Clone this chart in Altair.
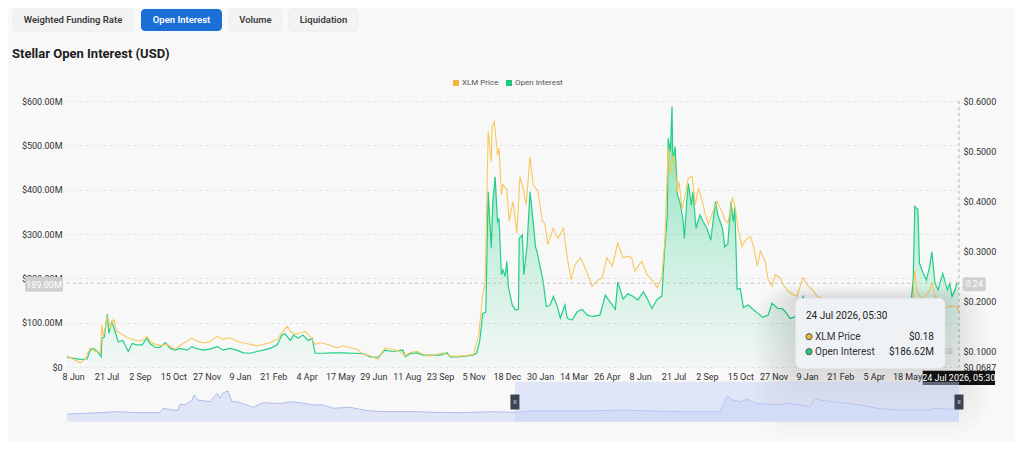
import altair as alt
import pandas as pd

# ---------------- data ----------------
BUTTONS = ["Weighted Funding Rate", "Open Interest", "Volume", "Liquidation"]
TITLE = "Stellar Open Interest (USD)"
SERIES = ["XLM Price", "Open Interest"]

oi_dates = ["2023-05-31","2023-06-17","2023-06-26","2023-06-30","2023-07-04","2023-07-09","2023-07-14","2023-07-15","2023-07-18","2023-07-22","2023-07-24","2023-07-28","2023-08-01","2023-08-05","2023-08-11","2023-08-18","2023-08-23","2023-08-29","2023-09-05","2023-09-11","2023-09-15","2023-09-22","2023-09-28","2023-10-05","2023-10-11","2023-10-17","2023-10-24","2023-11-02","2023-11-08","2023-11-15","2023-11-23","2023-12-02","2023-12-11","2023-12-18","2023-12-27","2024-01-05","2024-01-13","2024-01-22","2024-01-31","2024-02-08","2024-02-17","2024-02-26","2024-03-03","2024-03-07","2024-03-14","2024-03-18","2024-03-24","2024-03-30","2024-04-06","2024-04-11","2024-04-15","2024-04-25","2024-05-08","2024-05-21","2024-06-03","2024-06-16","2024-06-25","2024-07-05","2024-07-14","2024-07-24","2024-07-31","2024-08-06","2024-08-09","2024-08-15","2024-08-24","2024-09-01","2024-09-10","2024-09-23","2024-10-02","2024-10-06","2024-10-15","2024-10-28","2024-11-05","2024-11-09","2024-11-13","2024-11-17","2024-11-21","2024-11-24","2024-11-28","2024-11-30","2024-12-03","2024-12-06","2024-12-08","2024-12-11","2024-12-13","2024-12-16","2024-12-18","2024-12-20","2024-12-25","2024-12-29","2025-01-02","2025-01-03","2025-01-07","2025-01-09","2025-01-13","2025-01-17","2025-01-21","2025-01-24","2025-01-26","2025-01-30","2025-02-03","2025-02-07","2025-02-12","2025-02-16","2025-02-21","2025-02-25","2025-03-03","2025-03-06","2025-03-12","2025-03-19","2025-03-25","2025-04-01","2025-04-08","2025-04-17","2025-04-24","2025-04-30","2025-05-07","2025-05-10","2025-05-17","2025-05-23","2025-05-29","2025-06-05","2025-06-12","2025-06-18","2025-06-23","2025-06-30","2025-07-06","2025-07-09","2025-07-13","2025-07-14","2025-07-17","2025-07-19","2025-07-20","2025-07-23","2025-07-26","2025-07-29","2025-08-02","2025-08-04","2025-08-07","2025-08-09","2025-08-13","2025-08-15","2025-08-19","2025-08-24","2025-08-28","2025-09-02","2025-09-07","2025-09-13","2025-09-16","2025-09-22","2025-09-25","2025-09-29","2025-10-03","2025-10-06","2025-10-08","2025-10-11","2025-10-15","2025-10-19","2025-10-25","2025-11-01","2025-11-07","2025-11-13","2025-11-20","2025-11-25","2025-12-02","2025-12-08","2025-12-12","2025-12-18","2025-12-25","2026-01-04","2026-01-13","2026-02-01","2026-02-21","2026-03-12","2026-03-31","2026-04-20","2026-05-09","2026-05-22","2026-05-26","2026-05-28","2026-06-01","2026-06-03","2026-06-08","2026-06-12","2026-06-16","2026-06-19","2026-06-23","2026-06-27","2026-07-03","2026-07-09","2026-07-12","2026-07-15","2026-07-19","2026-07-21","2026-07-24"]
oi_values = [22,17,18,38,42,35,23,65,67,119,76,102,80,57,60,35,53,50,50,65,53,44,44,55,42,38,42,38,46,41,38,41,46,38,42,38,32,31,35,38,42,50,72,75,60,72,65,72,60,65,31,31,32,32,31,30,23,22,38,35,37,38,23,30,32,27,27,27,32,23,23,25,27,31,57,121,124,395,268,373,429,328,335,208,219,204,238,181,140,129,130,290,298,208,271,395,328,271,260,226,192,136,140,159,138,110,140,110,106,125,130,117,114,117,162,147,130,192,153,165,160,151,170,151,132,153,160,253,343,516,486,587,463,497,388,373,335,290,373,414,365,395,313,343,328,313,286,373,343,313,271,278,373,328,360,175,177,134,140,129,121,112,117,144,132,132,125,110,113,159,120,115,110,118,105,112,108,120,200,362,355,234,211,196,226,260,189,174,211,174,189,159,174,189,186.62]

price_dates = ["2023-05-31","2023-06-08","2023-06-17","2023-06-23","2023-06-30","2023-07-06","2023-07-13","2023-07-15","2023-07-17","2023-07-22","2023-07-26","2023-07-30","2023-08-03","2023-08-10","2023-08-17","2023-08-23","2023-08-29","2023-09-05","2023-09-11","2023-09-17","2023-09-28","2023-10-07","2023-10-17","2023-10-26","2023-11-02","2023-11-08","2023-11-15","2023-11-23","2023-12-02","2023-12-11","2023-12-18","2023-12-27","2024-01-05","2024-01-13","2024-01-22","2024-01-31","2024-02-08","2024-02-17","2024-02-26","2024-03-03","2024-03-10","2024-03-14","2024-03-20","2024-03-27","2024-04-02","2024-04-08","2024-04-15","2024-04-21","2024-04-30","2024-05-13","2024-05-21","2024-05-30","2024-06-08","2024-06-16","2024-06-25","2024-07-05","2024-07-14","2024-07-24","2024-08-02","2024-08-09","2024-08-15","2024-08-24","2024-09-01","2024-09-10","2024-09-19","2024-09-27","2024-10-06","2024-10-15","2024-10-28","2024-11-05","2024-11-12","2024-11-17","2024-11-20","2024-11-24","2024-11-28","2024-11-29","2024-12-02","2024-12-06","2024-12-08","2024-12-11","2024-12-13","2024-12-18","2024-12-21","2024-12-26","2024-12-31","2025-01-04","2025-01-08","2025-01-12","2025-01-17","2025-01-21","2025-01-27","2025-02-02","2025-02-05","2025-02-09","2025-02-16","2025-02-22","2025-03-01","2025-03-06","2025-03-11","2025-03-16","2025-03-23","2025-03-29","2025-04-07","2025-04-13","2025-04-20","2025-04-26","2025-05-03","2025-05-10","2025-05-17","2025-05-23","2025-05-28","2025-06-01","2025-06-10","2025-06-17","2025-06-23","2025-06-30","2025-07-06","2025-07-10","2025-07-14","2025-07-17","2025-07-20","2025-07-23","2025-07-26","2025-07-28","2025-08-01","2025-08-05","2025-08-09","2025-08-14","2025-08-18","2025-08-22","2025-08-27","2025-08-31","2025-09-04","2025-09-10","2025-09-15","2025-09-22","2025-09-25","2025-09-29","2025-10-05","2025-10-08","2025-10-12","2025-10-17","2025-10-21","2025-10-28","2025-11-01","2025-11-06","2025-11-10","2025-11-16","2025-11-20","2025-11-25","2025-11-29","2025-12-05","2025-12-09","2025-12-16","2025-12-22","2025-12-27","2026-01-04","2026-01-09","2026-01-16","2026-01-22","2026-01-29","2026-02-21","2026-03-12","2026-03-31","2026-04-20","2026-05-09","2026-05-22","2026-05-26","2026-05-28","2026-05-31","2026-06-06","2026-06-16","2026-06-19","2026-06-23","2026-06-30","2026-07-06","2026-07-12","2026-07-21","2026-07-24"]
price_values = [0.091,0.084,0.077,0.084,0.107,0.100,0.097,0.154,0.130,0.170,0.147,0.164,0.140,0.134,0.127,0.124,0.121,0.121,0.130,0.117,0.111,0.114,0.104,0.114,0.120,0.127,0.120,0.117,0.120,0.130,0.124,0.127,0.120,0.117,0.114,0.111,0.114,0.117,0.124,0.137,0.150,0.140,0.134,0.137,0.140,0.130,0.114,0.117,0.114,0.107,0.111,0.107,0.104,0.094,0.091,0.084,0.107,0.104,0.100,0.091,0.097,0.100,0.094,0.091,0.094,0.097,0.091,0.090,0.092,0.094,0.134,0.214,0.233,0.539,0.479,0.549,0.559,0.492,0.506,0.413,0.433,0.423,0.360,0.399,0.336,0.449,0.426,0.393,0.489,0.433,0.420,0.360,0.355,0.313,0.346,0.326,0.346,0.287,0.243,0.273,0.287,0.267,0.230,0.240,0.247,0.287,0.270,0.316,0.287,0.290,0.287,0.260,0.280,0.253,0.243,0.227,0.250,0.327,0.506,0.453,0.492,0.460,0.419,0.439,0.383,0.413,0.446,0.449,0.393,0.426,0.400,0.373,0.353,0.380,0.400,0.376,0.363,0.356,0.406,0.393,0.346,0.310,0.320,0.330,0.310,0.270,0.300,0.280,0.243,0.230,0.253,0.247,0.233,0.220,0.213,0.210,0.247,0.233,0.223,0.210,0.205,0.195,0.200,0.185,0.192,0.185,0.190,0.210,0.263,0.220,0.204,0.220,0.237,0.210,0.200,0.187,0.190,0.190,0.180]

# navigator (full history, relative level 0-100)
nav_dates = ["2020-03-27","2020-06-20","2020-08-04","2020-10-02","2020-11-23","2020-12-01","2020-12-27","2021-01-08","2021-01-14","2021-01-27","2021-02-14","2021-02-19","2021-03-01","2021-04-01","2021-04-20","2021-04-27","2021-05-05","2021-05-18","2021-05-28","2021-06-10","2021-07-06","2021-07-22","2021-08-17","2021-09-12","2021-10-07","2021-10-26","2021-11-20","2021-12-24","2022-01-19","2022-02-14","2022-03-30","2022-05-13","2022-06-23","2022-09-20","2022-10-31","2023-01-09","2023-04-04","2023-05-26","2023-06-06","2023-07-17","2023-10-13","2024-01-06","2024-03-06","2024-05-15","2024-08-08","2024-11-12","2024-11-20","2024-11-30","2024-12-16","2025-01-03","2025-01-21","2025-02-16","2025-03-14","2025-04-09","2025-05-05","2025-06-07","2025-07-03","2025-07-16","2025-07-29","2025-09-01","2025-10-07","2025-11-10","2025-12-24","2026-02-21","2026-05-02","2026-05-28","2026-06-13","2026-07-09","2026-07-24"]
nav_values = [19,22.5,25,22.5,22.5,33.5,29,29,44,42,54,67,54,50,71,59,72,77,50,50,42,36,47.5,46,46,50,47.5,42,42,33.5,36,27.5,25,25,23.5,22.5,25,23.5,23.5,27,27,27.5,29,27,25,25,42,64,54,50,56,46,43.5,42,46,42,37.5,58.5,54,50,46,42,33.5,29,29,33.5,32,31,31]

x_tick_dates = ["2023-06-08","2023-07-21","2023-09-02","2023-10-15","2023-11-27","2024-01-09","2024-02-21","2024-04-04","2024-05-17","2024-06-29","2024-08-11","2024-09-23","2024-11-05","2024-12-18","2025-01-30","2025-03-14","2025-04-26","2025-06-08","2025-07-21","2025-09-02","2025-10-15","2025-11-27","2026-01-09","2026-02-21","2026-04-05","2026-05-18"]
left_ticks = [0, 100, 200, 300, 400, 500, 600]
right_ticks = [0.0687, 0.1, 0.2, 0.3, 0.4, 0.5, 0.6]

view_start, view_end = "2023-05-31", "2026-07-24"
nav_start = "2020-03-27"
hover_label = "24 Jul 2026, 05:30"
hover_price = 0.18
hover_oi = 186.62
cross_oi = 189.0
cross_price = 0.24

# ---------------- styling ----------------
W, H = 892, 266
YELLOW, GREEN = "#f7c95c", "#22cf86"
FONT = "Roboto"


def dt(s):
    y, m, d = (int(v) for v in s.split("-"))
    return alt.DateTime(year=y, month=m, date=d, utc=True)


one = pd.DataFrame({"k": [0]})

x_main = alt.Scale(domain=[dt(view_start), dt(view_end)], nice=False)
x_nav = alt.Scale(domain=[dt(nav_start), dt(view_end)], nice=False)
y_left = alt.Scale(domain=[0, 600], nice=False)
y_right = alt.Scale(domain=[0.0687, 0.6], nice=False, zero=False)
y_nav = alt.Scale(domain=[0, 100], range=[320.7, 280.7], nice=False)

x_axis = alt.Axis(values=[dt(s) for s in x_tick_dates],
                  labelExpr="utcFormat(datum.value, '%-d %b')",
                  title=None, domain=False, ticks=False, grid=False,
                  labelPadding=5, labelFontSize=9, labelColor="#333",
                  labelOverlap=False, labelFont=FONT)
left_axis = alt.Axis(values=left_ticks,
                     labelExpr="datum.value == 0 ? '$0' : '$' + format(datum.value, '.2f') + 'M'",
                     title=None, domain=False, ticks=False, grid=True,
                     gridDash=[3, 3], gridColor="#e4e4e4", labelPadding=5,
                     labelFontSize=9, labelColor="#333", labelFont=FONT)
right_axis = alt.Axis(values=right_ticks, orient="right",
                      labelExpr="'$' + format(datum.value, '.4f')",
                      title=None, domain=False, ticks=False, grid=False,
                      labelPadding=4, labelFontSize=9, labelColor="#333",
                      labelOverlap=False, labelFont=FONT)

oi_df = pd.DataFrame({"date": oi_dates, "oi": oi_values})
price_df = pd.DataFrame({"date": price_dates, "price": price_values})
nav_df = pd.DataFrame({"date": nav_dates, "level": nav_values})


def txt(s, x, y, **kw):
    return alt.Chart(one).mark_text(text=s, font=FONT, **kw).encode(
        x=alt.value(x), y=alt.value(y))


def box(x, y, x2, y2, **kw):
    return alt.Chart(one).mark_rect(**kw).encode(
        x=alt.value(x), x2=alt.value(x2), y=alt.value(y), y2=alt.value(y2))


# header: buttons + title + legend
btn_boxes = [(-54, 66), (74, 155), (162, 215), (222, 291)]
header = []
for label, (bx0, bx1) in zip(BUTTONS, btn_boxes):
    active = label == "Open Interest"
    header.append(box(bx0, -92, bx1, -70, cornerRadius=4,
                      fill="#1b6fd6" if active else "#f3f3f3",
                      stroke=None if active else "#ececec"))
    header.append(txt(label, (bx0 + bx1) / 2, -81, fontSize=9.5, fontWeight=600,
                      color="#ffffff" if active else "#3a3a3a",
                      align="center", baseline="middle"))
header.append(txt(TITLE, -55, -47, fontSize=13, fontWeight="bold", color="#1c1c1c",
                  align="left", baseline="middle"))
header.append(alt.Chart(one).mark_square(size=36, color="#f1b73b", opacity=1).encode(
    x=alt.value(389), y=alt.value(-18)))
header.append(txt(SERIES[0], 395, -18, fontSize=8, color="#555", align="left", baseline="middle"))
header.append(alt.Chart(one).mark_square(size=36, color="#1ec97e", opacity=1).encode(
    x=alt.value(442), y=alt.value(-18)))
header.append(txt(SERIES[1], 448, -18, fontSize=8, color="#555", align="left", baseline="middle"))

# main series
grad = alt.Gradient(gradient="linear",
                    stops=[alt.GradientStop(color="rgba(31,206,132,0.55)", offset=0),
                           alt.GradientStop(color="rgba(31,206,132,0.22)", offset=0.55),
                           alt.GradientStop(color="rgba(31,206,132,0.02)", offset=1)],
                    x1=1, x2=1, y1=0, y2=1)
area = alt.Chart(oi_df).mark_area(color=grad).encode(
    x=alt.X("date:T", scale=x_main, axis=x_axis),
    y=alt.Y("oi:Q", scale=y_left, axis=left_axis))
oi_line = alt.Chart(oi_df).mark_line(color=GREEN, strokeWidth=1.2).encode(
    x=alt.X("date:T", scale=x_main, axis=None),
    y=alt.Y("oi:Q", scale=y_left, axis=None))
price_line = alt.Chart(price_df).mark_line(color=YELLOW, strokeWidth=1.1).encode(
    x=alt.X("date:T", scale=x_main, axis=None),
    y=alt.Y("price:Q", scale=y_right, axis=right_axis))

# crosshair
hrule = alt.Chart(pd.DataFrame({"v": [cross_oi]})).mark_rule(
    color="#c4c4c4", strokeDash=[3, 3], strokeWidth=1).encode(
    y=alt.Y("v:Q", scale=y_left, axis=None), x=alt.value(0), x2=alt.value(W))
vrule = alt.Chart(pd.DataFrame({"d": [view_end]})).mark_rule(
    color="#b0b0b0", strokeDash=[3, 3], strokeWidth=1).encode(
    x=alt.X("d:T", scale=x_main, axis=None), y=alt.value(0), y2=alt.value(H))
cross = [
    box(-42, 176, -4, 190.7, fill="#cfcfcf", cornerRadius=2),
    txt(f"{cross_oi:.2f}M", -23, 183.5, fontSize=9, color="#ffffff", align="center", baseline="middle"),
    box(895.7, 176.3, 918.7, 190.3, fill="#cfcfcf", cornerRadius=2),
    txt(f"{cross_price:.2f}", 907.2, 183.3, fontSize=9, color="#ffffff", align="center", baseline="middle"),
    box(855.7, 269.7, 928, 284, fill="#111111"),
    txt(hover_label, 891.8, 277, fontSize=9, color="#ffffff", align="center", baseline="middle"),
]

# watermark + tooltip with soft shadow
tip = [txt("CoinGlass", 886, 250, fontSize=11, color="#c9c9c9", align="right", baseline="middle")]
tx0, ty0, tx1, ty1 = 728.7, 197.3, 878, 267.3
for i in range(10):
    pad = 2 + i * 4.5
    tip.append(box(tx0 - pad, ty0 - pad * 0.3, tx1 + pad, ty1 + 3 + i * 7,
                   fill="#000000", opacity=0.013, cornerRadius=8 + i * 3))
tip += [
    box(tx0, ty0, tx1, ty1, fill="#eff2f5", stroke="#e4e7ea", cornerRadius=6),
    txt(hover_label, 739, 215, fontSize=10, color="#222", align="left", baseline="middle"),
    alt.Chart(one).mark_circle(size=38, color="#f0b63a", stroke="#555", strokeWidth=1, opacity=1).encode(
        x=alt.value(742), y=alt.value(235.7)),
    txt(SERIES[0], 748, 235.7, fontSize=10, color="#333", align="left", baseline="middle"),
    txt(f"${hover_price:.2f}", 867, 235.7, fontSize=10, color="#222", align="right", baseline="middle"),
    alt.Chart(one).mark_circle(size=38, color="#1ec97e", stroke="#555", strokeWidth=1, opacity=1).encode(
        x=alt.value(742), y=alt.value(250.7)),
    txt(SERIES[1], 748, 250.7, fontSize=10, color="#333", align="left", baseline="middle"),
    txt(f"${hover_oi:.2f}M", 867, 250.7, fontSize=10, color="#222", align="right", baseline="middle"),
]

# navigator
nav_area = alt.Chart(nav_df).mark_area(color="#e1e6f6", opacity=1).encode(
    x=alt.X("date:T", scale=x_nav, axis=None),
    y=alt.Y("level:Q", scale=y_nav, axis=None))
nav_line = alt.Chart(nav_df).mark_line(color="#a6b7ec", strokeWidth=0.9).encode(
    x=alt.X("date:T", scale=x_nav, axis=None),
    y=alt.Y("level:Q", scale=y_nav, axis=None))
sel = alt.Chart(pd.DataFrame({"a": [view_start], "b": [view_end]})).mark_rect(
    color="#c3d0f7", opacity=0.45).encode(
    x=alt.X("a:T", scale=x_nav, axis=None), x2="b:T",
    y=alt.value(280.7), y2=alt.value(320.7))
handles_df = pd.DataFrame({"d": [view_start, view_end]})
handles = alt.Chart(handles_df).mark_point(
    shape="M-0.3,-0.5 L0.3,-0.5 L0.3,0.5 L-0.3,0.5 Z", filled=True, size=900,
    color="#3c4250", opacity=1).encode(
    x=alt.X("d:T", scale=x_nav, axis=None), y=alt.value(301))
grips = alt.Chart(handles_df).mark_text(text="II", fontSize=6, color="#dfe3ee", font=FONT).encode(
    x=alt.X("d:T", scale=x_nav, axis=None), y=alt.value(301))

layers = header + [area, oi_line, price_line, hrule, vrule] + tip + cross + [nav_area, nav_line, sel, handles, grips]

chart = alt.layer(*layers).resolve_scale(x="independent", y="independent").properties(
    width=W, height=H,
    autosize=alt.AutoSizeParams(type="none"),
    padding={"left": 59, "top": 93, "right": 56, "bottom": 75},
).configure(background="#f8f8f8", font=FONT).configure_view(stroke=None)

chart.save("out.html", embed_options={"renderer": "svg", "actions": False})
